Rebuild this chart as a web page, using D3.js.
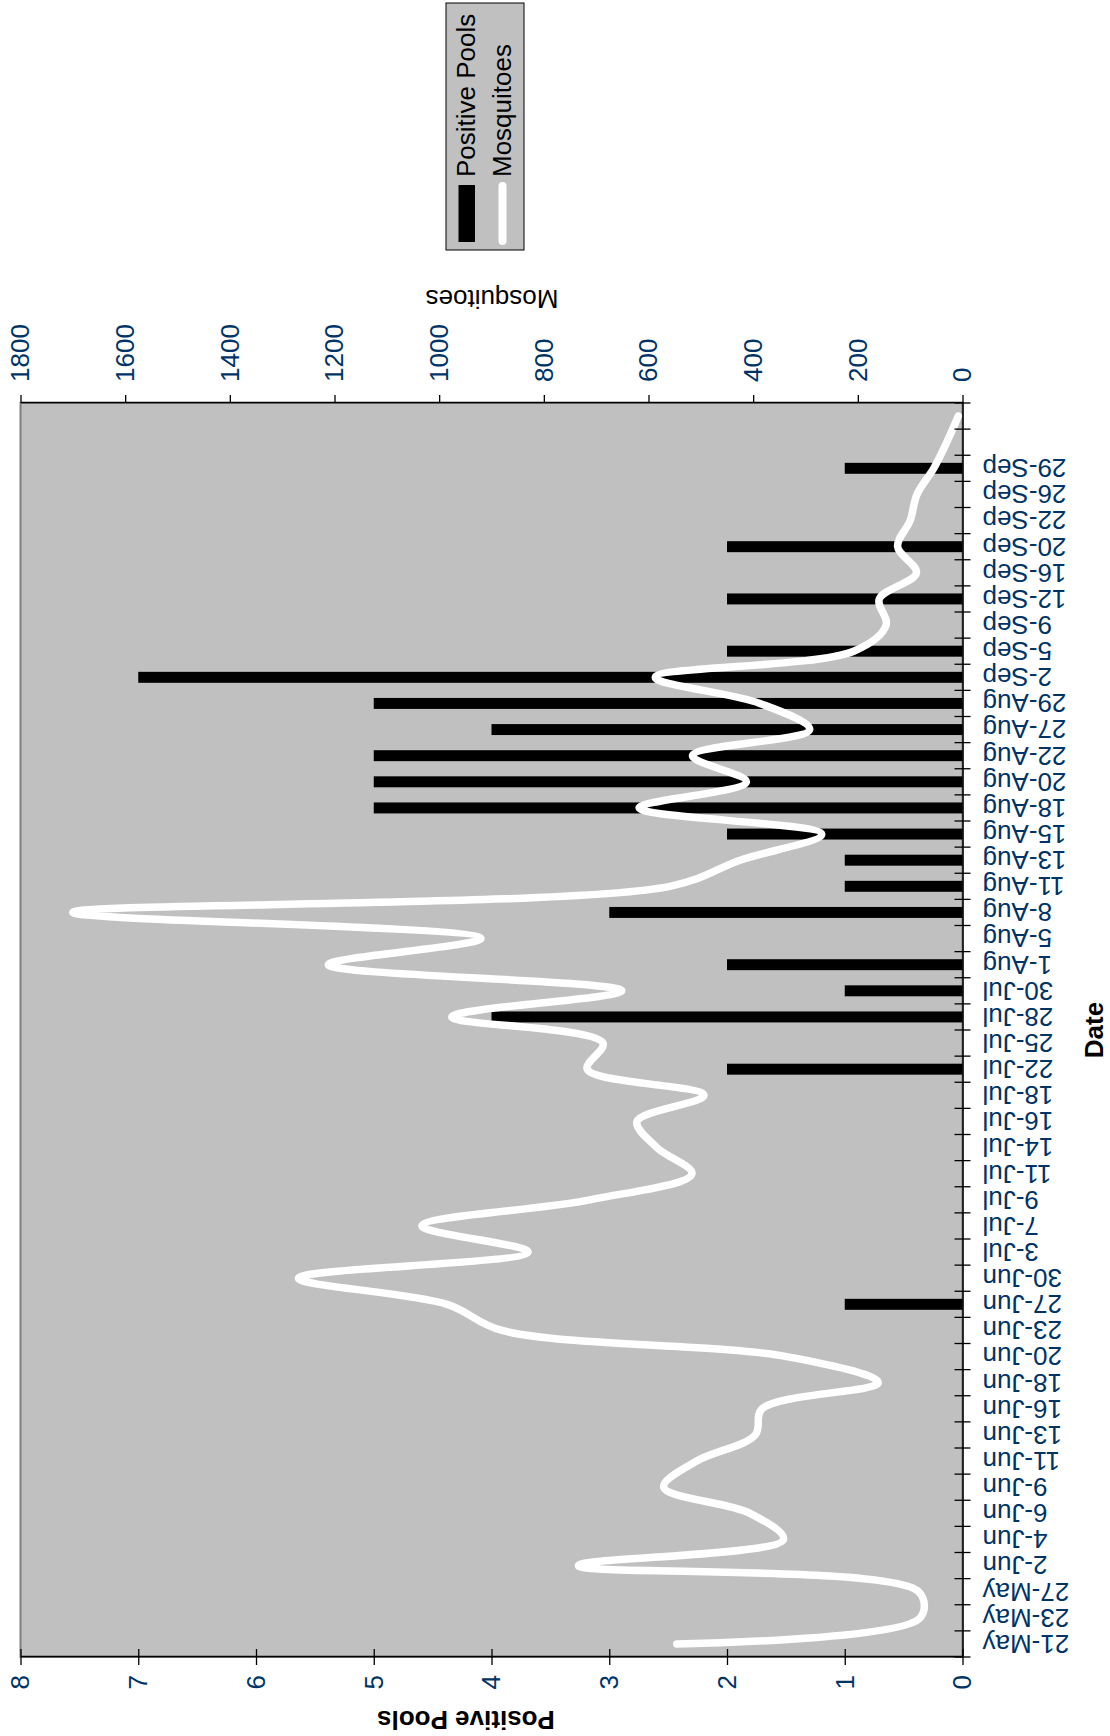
<!DOCTYPE html>
<html>
<head>
<meta charset="utf-8">
<script src="https://cdn.jsdelivr.net/npm/d3@7"></script>
<style>
    body { margin: 0; background: #fff; }
    svg { display: block; }
</style>
</head>
<body>
<div id="vis"></div>
<script>
// data (the chart is printed turned on its side)
const dates = [
    '21-May', '23-May', '27-May', '2-Jun', '4-Jun', '6-Jun', '9-Jun', '11-Jun',
    '13-Jun', '16-Jun', '18-Jun', '20-Jun', '23-Jun', '27-Jun', '30-Jun', '3-Jul',
    '7-Jul', '9-Jul', '11-Jul', '14-Jul', '16-Jul', '18-Jul', '22-Jul', '25-Jul',
    '28-Jul', '30-Jul', '1-Aug', '5-Aug', '8-Aug', '11-Aug', '13-Aug', '15-Aug',
    '18-Aug', '20-Aug', '22-Aug', '27-Aug', '29-Aug', '2-Sep', '5-Sep', '9-Sep',
    '12-Sep', '16-Sep', '20-Sep', '22-Sep', '26-Sep', '29-Sep', '', ''
];
const positivePools = [
    0, 0, 0, 0, 0, 0, 0, 0, 0, 0, 0, 0, 0, 1, 0, 0,
    0, 0, 0, 0, 0, 0, 2, 0, 4, 1, 2, 0, 3, 1, 1, 2,
    5, 5, 5, 4, 5, 7, 2, 0, 2, 0, 2, 0, 0, 1, 0, 0
];
const mosquitoes = [
    546, 81, 84, 734, 342, 406, 571, 508, 396, 383, 161, 336, 880, 985, 1269, 830,
    1033, 712, 517, 584, 622, 494, 717, 687, 976, 651, 1212, 920, 1700, 559, 425, 269,
    618, 413, 516, 292, 387, 587, 208, 146, 159, 88, 124, 100, 87, 55, 30, 8
];
const poolTicks = [0, 1, 2, 3, 4, 5, 6, 7, 8];
const mosquitoTicks = [0, 200, 400, 600, 800, 1000, 1200, 1400, 1600, 1800];
const seriesNames = ['Positive Pools', 'Mosquitoes'];

const pageW = 1110, pageH = 1736;
const FONT = '"Liberation Sans", Arial, Helvetica, sans-serif';
const labelColor = '#003366';

// drawn in landscape, then the whole group is turned 90deg anticlockwise
const plot = { left: 79, right: 1333, top: 20.5, bottom: 962.5 };

const svg = d3.select('#vis')
    .append('svg')
    .attr('width', pageW)
    .attr('height', pageH)
    .style('font-family', FONT);

svg.append('rect').attr('width', pageW).attr('height', pageH).attr('fill', '#fff');

const g = svg.append('g')
    .attr('transform', `translate(0,${pageH}) rotate(-90)`);

const x = d3.scaleBand()
    .domain(d3.range(dates.length))
    .range([plot.left, plot.right]);

const xBar = d3.scaleBand()
    .domain(d3.range(dates.length))
    .range([plot.left, plot.right])
    .paddingInner(0.58)
    .paddingOuter(0.29);

const yPools = d3.scaleLinear().domain([0, 8]).range([plot.bottom, plot.top]);
const yMosq = d3.scaleLinear().domain([0, 1800]).range([plot.bottom, plot.top]);

// plot area
g.append('rect')
    .attr('x', plot.left)
    .attr('y', plot.top)
    .attr('width', plot.right - plot.left)
    .attr('height', plot.bottom - plot.top)
    .attr('fill', '#c0c0c0')
    .attr('stroke', '#808080')
    .attr('stroke-width', 2);

// bars
g.selectAll('.bar')
    .data(positivePools.map((v, i) => ({ i, v })).filter(d => d.v > 0))
    .join('rect')
    .attr('class', 'bar')
    .attr('x', d => xBar(d.i))
    .attr('width', xBar.bandwidth())
    .attr('y', d => yPools(d.v))
    .attr('height', d => yPools(0) - yPools(d.v))
    .attr('fill', '#000');

// smoothed line
const line = d3.line()
    .x((d, i) => x(i) + x.bandwidth() / 2)
    .y(d => yMosq(d))
    .curve(d3.curveCatmullRom.alpha(0.5));

g.append('path')
    .datum(mosquitoes)
    .attr('d', line)
    .attr('fill', 'none')
    .attr('stroke', '#fff')
    .attr('stroke-width', 7.5)
    .attr('stroke-linecap', 'round')
    .attr('stroke-linejoin', 'round');

function styleAxis(sel) {
    sel.attr('font-family', FONT).attr('font-size', 26);
    sel.select('.domain').attr('stroke', '#000').attr('stroke-width', 1.5);
    sel.selectAll('.tick line').attr('stroke', '#000').attr('stroke-width', 1.3);
    sel.selectAll('.tick text').attr('fill', labelColor);
}

// left axis: positive pools (ticks cross)
const leftAxis = g.append('g')
    .attr('transform', `translate(${plot.left},0)`)
    .call(d3.axisLeft(yPools).tickValues(poolTicks).tickSize(8).tickSizeOuter(0).tickPadding(10));
leftAxis.selectAll('.tick line').attr('x1', 8);
styleAxis(leftAxis);

// right axis: mosquitoes
const rightAxis = g.append('g')
    .attr('transform', `translate(${plot.right},0)`)
    .call(d3.axisRight(yMosq).tickValues(mosquitoTicks).tickFormat(d3.format('d'))
        .tickSize(8).tickSizeOuter(0).tickPadding(13));
styleAxis(rightAxis);

// date axis
const dateAxis = g.append('g')
    .attr('transform', `translate(0,${plot.bottom})`)
    .call(d3.axisBottom(x).tickSize(0).tickPadding(0).tickFormat(i => dates[i]));
styleAxis(dateAxis);
dateAxis.selectAll('.tick text')
    .attr('transform', 'rotate(-90)')
    .attr('text-anchor', 'end')
    .attr('x', -20)
    .attr('y', 0)
    .attr('dy', '0.35em');

dateAxis.selectAll('.bound')
    .data(d3.range(dates.length + 1))
    .join('line')
    .attr('class', 'bound')
    .attr('x1', i => plot.left + i * x.step())
    .attr('x2', i => plot.left + i * x.step())
    .attr('y1', -8)
    .attr('y2', 8)
    .attr('stroke', '#000')
    .attr('stroke-width', 1.3);

// axis titles
g.append('text')
    .attr('transform', 'translate(16,466) rotate(-90)')
    .attr('text-anchor', 'middle')
    .attr('dy', '0.35em')
    .attr('font-size', 26)
    .attr('font-weight', 'bold')
    .attr('fill', '#000')
    .text('Positive Pools');

g.append('text')
    .attr('transform', 'translate(1437,492) rotate(-90)')
    .attr('text-anchor', 'middle')
    .attr('dy', '0.35em')
    .attr('font-size', 26)
    .attr('fill', '#000')
    .text('Mosquitoes');

g.append('text')
    .attr('x', (plot.left + plot.right) / 2)
    .attr('y', 1103)
    .attr('text-anchor', 'middle')
    .attr('font-size', 26)
    .attr('font-weight', 'bold')
    .attr('fill', '#000')
    .text('Date');

// legend
const legend = g.append('g').attr('transform', 'translate(1486,446)');
legend.append('rect')
    .attr('width', 247)
    .attr('height', 78)
    .attr('fill', '#c0c0c0')
    .attr('stroke', '#000')
    .attr('stroke-width', 1);
legend.append('rect')
    .attr('x', 8)
    .attr('y', 12.5)
    .attr('width', 57)
    .attr('height', 16.5)
    .attr('fill', '#000');
legend.append('line')
    .attr('x1', 9)
    .attr('x2', 64)
    .attr('y1', 56.5)
    .attr('y2', 56.5)
    .attr('stroke', '#fff')
    .attr('stroke-width', 8)
    .attr('stroke-linecap', 'round');
legend.selectAll('.legend-label')
    .data(seriesNames)
    .join('text')
    .attr('class', 'legend-label')
    .attr('x', 73)
    .attr('y', (d, i) => 29 + i * 36)
    .attr('font-size', 26)
    .attr('fill', '#000')
    .text(d => d);
</script>
</body>
</html>
